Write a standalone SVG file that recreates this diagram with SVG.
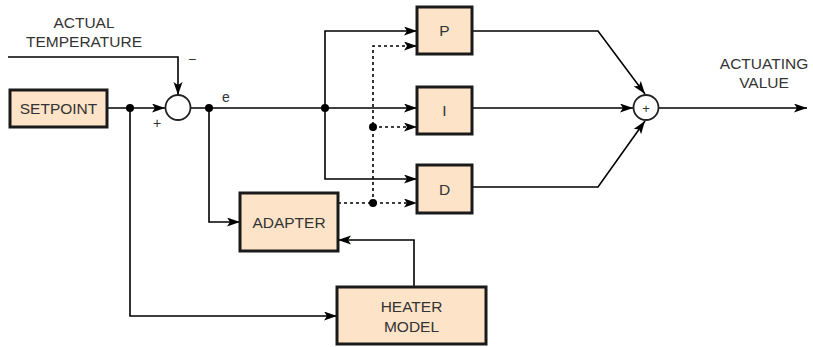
<svg xmlns="http://www.w3.org/2000/svg" width="813" height="347" viewBox="0 0 813 347">
<defs>
<marker id="ah" markerUnits="userSpaceOnUse" markerWidth="14" markerHeight="10" refX="13" refY="4.5" orient="auto">
<path d="M0,0 L13,4.5 L0,9 L3,4.5 z" fill="#000"/>
</marker>
</defs>
<style>
.box{fill:#fde3c8;stroke:#1a1a1a;stroke-width:3}
.t{font-family:"Liberation Sans",Arial,sans-serif;font-size:15.5px;fill:#333;text-anchor:middle}
.s{font-family:"Liberation Sans",Arial,sans-serif;font-size:14px;fill:#333;text-anchor:middle}
.ln{fill:none;stroke:#000;stroke-width:1.6}
.ar{marker-end:url(#ah)}
.dt{stroke-dasharray:3,3}
.dot{fill:#000}
.sum{fill:#fff;stroke:#222;stroke-width:1.8}
</style>
<g id="connectors">
<path class="ln ar" d="M107,108 H165"/>
<path class="ln ar" d="M8,57 H178 V95"/>
<path class="ln ar" d="M191,108 H417"/>
<path class="ln ar" d="M325,108 V31 H417"/>
<path class="ln ar" d="M325,108 V179 H417"/>
<path class="ln ar" d="M130,108 V316 H337"/>
<path class="ln ar" d="M209,108 V222 H240"/>
<path class="ln ar" d="M414,287 V240 H338"/>
<path class="ln ar dt" d="M338,203 H417"/>
<path class="ln ar dt" d="M373,203 V46 H417"/>
<path class="ln ar dt" d="M373,127 H417"/>
<path class="ln ar" d="M472,31 H598 L645,94"/>
<path class="ln ar" d="M472,108 H633"/>
<path class="ln ar" d="M472,187 H598 L645,121"/>
<path class="ln ar" d="M659,108 H807"/>
<circle class="dot" cx="130" cy="108" r="4"/>
<circle class="dot" cx="209" cy="108" r="4"/>
<circle class="dot" cx="325" cy="108" r="4"/>
<circle class="dot" cx="373" cy="127" r="4"/>
<circle class="dot" cx="373" cy="203" r="4"/>
</g>
<g id="labels">
<text class="t" x="84" y="28">ACTUAL</text>
<text class="t" x="84" y="47">TEMPERATURE</text>
<text class="t" x="764" y="69">ACTUATING</text>
<text class="t" x="764" y="88">VALUE</text>
<text class="s" x="226" y="102">e</text>
<text class="s" x="157" y="128">+</text>
<text class="s" x="192" y="64">−</text>
</g>
<g id="setpoint">
<rect class="box" x="10" y="90" width="97" height="37"/>
<text class="t" x="58.5" y="114">SETPOINT</text>
</g>
<g id="sum1">
<circle class="sum" cx="178" cy="107.5" r="12.5"/>
</g>
<g id="p">
<rect class="box" x="417" y="7" width="55" height="47"/>
<text class="t" x="444.5" y="36">P</text>
</g>
<g id="i">
<rect class="box" x="417" y="87" width="55" height="47"/>
<text class="t" x="444.5" y="116">I</text>
</g>
<g id="d">
<rect class="box" x="417" y="165" width="55" height="48"/>
<text class="t" x="444.5" y="195">D</text>
</g>
<g id="adapter">
<rect class="box" x="240" y="193" width="98" height="58"/>
<text class="t" x="289" y="228">ADAPTER</text>
</g>
<g id="heater">
<rect class="box" x="337" y="287" width="149" height="57"/>
<text class="t" x="411.5" y="312">HEATER</text>
<text class="t" x="411.5" y="332">MODEL</text>
</g>
<g id="sum2">
<circle class="sum" cx="646" cy="107.5" r="12.5"/>
<text class="s" x="646" y="112.5" style="font-size:13px">+</text>
</g>
</svg>
